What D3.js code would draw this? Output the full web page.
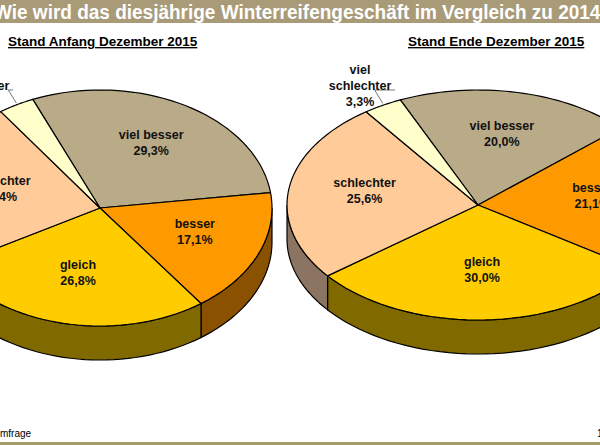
<!DOCTYPE html>
<html>
<head>
<meta charset="utf-8">
<script src="https://cdn.jsdelivr.net/npm/d3@7"></script>
<style>
  body { margin: 0; background: #fff; }
  svg { font-family: Arial, "Liberation Sans", sans-serif; }
</style>
</head>
<body>
<svg id="chart" width="600" height="445"></svg>
<script>
// Data
let categories = ["viel besser", "besser", "gleich", "schlechter", "viel schlechter"];
let valuesAnfang = [29.3, 17.1, 26.8, 23.4, 3.4];
let valuesEnde = [20.0, 21.1, 30.0, 25.6, 3.3];
let topColors = ["#b9aa88", "#ff9900", "#ffcc00", "#ffcc99", "#ffffcc"];
let sideColors = ["#6e6450", "#8a5200", "#806a00", "#8c7462", "#8a8a66"];

let svg = d3.select("#chart");

// header and footer bands
svg.append("rect").attr("x", 0).attr("y", 0).attr("width", 600).attr("height", 23).attr("fill", "#a99b78");
svg.append("text").attr("x", -6).attr("y", 19).attr("fill", "#fff")
    .attr("font-size", 20).attr("font-weight", "bold")
    .attr("textLength", 618).attr("lengthAdjust", "spacingAndGlyphs")
    .text("Wie wird das diesjährige Winterreifengeschäft im Vergleich zu 2014?");
svg.append("rect").attr("x", 0).attr("y", 442).attr("width", 600).attr("height", 3).attr("fill", "#a49d6c");
svg.append("text").attr("x", 0).attr("y", 437).attr("font-size", 10).text("mfrage");
svg.append("text").attr("x", 597).attr("y", 437).attr("font-size", 10).text("1");

function fmt(v) {
    return d3.format(".1f")(v).replace(".", ",") + "%";
}

function drawPie(cfg) {
    let g = svg.append("g");
    let { cx, cy, rx, ry, depth } = cfg;
    let pie = d3.pie().sort(null).value((d) => d)
        .startAngle(cfg.start * Math.PI / 180)
        .endAngle(cfg.start * Math.PI / 180 + 2 * Math.PI);
    let arcs = pie(cfg.values);

    let pt = (a, dy) => [cx + rx * Math.sin(a), cy - ry * Math.cos(a) + (dy || 0)];
    let steps = (a0, a1) => d3.range(0, 41).map((i) => a0 + (a1 - a0) * i / 40);

    // side walls (front half: angles between PI/2 and 3PI/2)
    arcs.forEach((d, i) => {
        [0, 2 * Math.PI, -2 * Math.PI].forEach((shift) => {
            let a0 = Math.max(d.startAngle + shift, Math.PI / 2);
            let a1 = Math.min(d.endAngle + shift, 3 * Math.PI / 2);
            if (a1 <= a0) return;
            let top = steps(a0, a1).map((a) => pt(a));
            let bottom = steps(a1, a0).map((a) => pt(a, depth));
            g.append("path")
                .attr("d", d3.line()(top.concat(bottom)) + "Z")
                .attr("fill", sideColors[i])
                .attr("stroke", "#000").attr("stroke-width", 1.2);
        });
    });

    // top faces
    arcs.forEach((d, i) => {
        let pts = [[cx, cy]].concat(steps(d.startAngle, d.endAngle).map((a) => pt(a)));
        g.append("path")
            .attr("d", d3.line()(pts) + "Z")
            .attr("fill", topColors[i])
            .attr("stroke", "#000").attr("stroke-width", 1.2)
            .attr("stroke-linejoin", "round");
    });

    // labels
    arcs.forEach((d, i) => {
        let mid = (d.startAngle + d.endAngle) / 2;
        let lines, x, y;
        if (i === 4) {
            x = cfg.outside[0];
            y = cfg.outside[1];
            lines = ["viel", "schlechter", fmt(d.data)];
            let edge = pt(mid, 0);
            g.append("path")
                .attr("d", d3.line()([[x + 35, y + 16], [edge[0] - 8, y + 16], [edge[0], edge[1] - 2]]))
                .attr("fill", "none").attr("stroke", "#555").attr("stroke-width", 0.8);
        } else {
            let p = [cx + rx * 0.6 * Math.sin(mid), cy - ry * 0.6 * Math.cos(mid)];
            x = p[0];
            y = p[1] - 8;
            lines = [categories[i], fmt(d.data)];
        }
        lines.forEach((t, k) => {
            g.append("text").attr("x", x).attr("y", y + k * 16)
                .attr("text-anchor", "middle").attr("font-size", 12.5)
                .attr("font-weight", "bold").attr("fill", "#111").text(t);
        });
    });

    // subtitle
    svg.append("text").attr("x", cfg.titleX).attr("y", 46)
        .attr("font-size", 13.5).attr("font-weight", "bold")
        .attr("text-decoration", "underline").text(cfg.title);
}

drawPie({
    values: valuesAnfang, cx: 100, cy: 208, rx: 172, ry: 118, depth: 34, start: -23,
    outside: [-22, 74], title: "Stand Anfang Dezember 2015", titleX: 8
});
drawPie({
    values: valuesEnde, cx: 478, cy: 205, rx: 191, ry: 115, depth: 34, start: -24,
    outside: [360, 74], title: "Stand Ende Dezember 2015", titleX: 408
});
</script>
</body>
</html>
